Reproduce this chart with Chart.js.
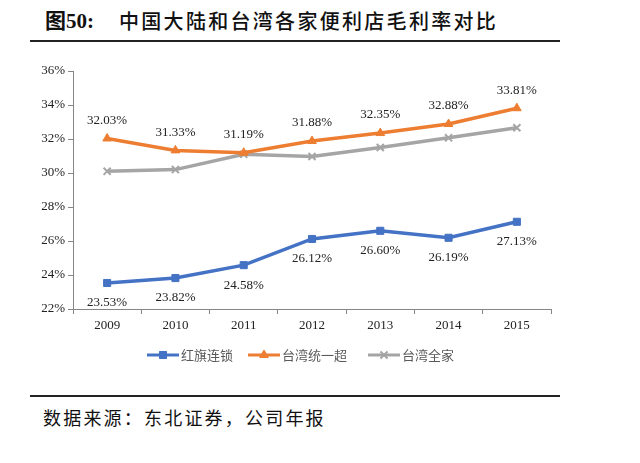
<!DOCTYPE html>
<html><head><meta charset="utf-8">
<script src="https://cdn.jsdelivr.net/npm/chart.js@4"></script>
<style>
html,body{margin:0;padding:0;background:#fff;width:640px;height:463px;overflow:hidden;}
#wrap{position:absolute;left:0;top:0;width:640px;height:463px;}
.title{position:absolute;left:45px;top:6px;color:#111;white-space:nowrap;line-height:30px;}
.title .num{font-family:"Liberation Serif","Noto Sans CJK SC",serif;font-weight:bold;font-size:21px;}
.title .main{position:absolute;left:74px;top:0;font-family:"Noto Sans CJK SC",sans-serif;font-weight:500;font-size:20px;letter-spacing:2.3px;}
.rule{position:absolute;left:30px;width:530px;height:2px;background:#222;}
.src{position:absolute;left:43px;top:404px;font-family:"Noto Sans CJK SC",sans-serif;font-size:18px;line-height:26px;letter-spacing:2.2px;color:#111;white-space:nowrap;}
</style></head>
<body>
<div class="title"><span class="num">图50:</span><span class="main">中国大陆和台湾各家便利店毛利率对比</span></div>
<div class="rule" style="top:40px"></div>
<div class="rule" style="top:395px"></div>
<div class="src">数据来源：东北证券，公司年报</div>
<div id="wrap"><canvas id="c" width="640" height="463"></canvas></div>
<script>
const years = ['2009','2010','2011','2012','2013','2014','2015'];
const hongqi = [23.53, 23.82, 24.58, 26.12, 26.60, 26.19, 27.13];
const tongyi = [32.03, 31.33, 31.19, 31.88, 32.35, 32.88, 33.81];
const quanjia = [30.10, 30.20, 31.10, 30.97, 31.50, 32.07, 32.66];
const seriesNames = ['红旗连锁', '台湾统一超', '台湾全家'];
const yTicks = [22, 24, 26, 28, 30, 32, 34, 36];

const serif = '"Liberation Serif", "Times New Roman", serif';

const dataLabels = {
  id: 'dataLabels',
  afterDatasetsDraw(chart) {
    const ctx = chart.ctx;
    ctx.save();
    ctx.font = '13px ' + serif;
    ctx.fillStyle = '#222';
    ctx.textAlign = 'center';
    ctx.textBaseline = 'middle';
    chart.data.datasets.forEach((ds, i) => {
      if (!ds.showLabels) return;
      const meta = chart.getDatasetMeta(i);
      meta.data.forEach((pt, j) => {
        const txt = ds.data[j].toFixed(2) + '%';
        ctx.fillText(txt, pt.x, pt.y + ds.labelOffset);
      });
    });
    ctx.restore();
  }
};

const customLegend = {
  id: 'customLegend',
  afterDraw(chart) {
    const ctx = chart.ctx;
    const y = 355;
    const items = [
      {x: 147, ds: 0},
      {x: 248, ds: 1},
      {x: 368, ds: 2}
    ];
    ctx.save();
    items.forEach(it => {
      const ds = chart.data.datasets[it.ds];
      ctx.strokeStyle = ds.borderColor;
      ctx.lineWidth = 3;
      ctx.beginPath();
      ctx.moveTo(it.x, y);
      ctx.lineTo(it.x + 32, y);
      ctx.stroke();
      ctx.fillStyle = ds.borderColor;
      ctx.strokeStyle = ds.borderColor;
      ctx.lineWidth = ds.pointBorderWidth || 1;
      Chart.helpers.drawPoint(ctx, {
        pointStyle: ds.pointStyle, radius: ds.pointRadius, rotation: 0,
        borderWidth: ds.pointBorderWidth || 1
      }, it.x + 16, y);
      ctx.fillStyle = '#595959';
      ctx.font = '13px "Noto Sans CJK SC", sans-serif';
      ctx.textAlign = 'left';
      ctx.textBaseline = 'middle';
      ctx.fillText(seriesNames[it.ds], it.x + 34, y);
    });
    ctx.restore();
  }
};

new Chart(document.getElementById('c'), {
  type: 'line',
  data: {
    labels: years,
    datasets: [
      {label: seriesNames[0], data: hongqi, borderColor: '#4472C4', backgroundColor: '#4472C4',
       borderWidth: 3.5, pointStyle: 'rect', pointRadius: 5, pointBorderWidth: 1,
       showLabels: true, labelOffset: 20, tension: 0},
      {label: seriesNames[1], data: tongyi, borderColor: '#ED7D31', backgroundColor: '#ED7D31',
       borderWidth: 3.5, pointStyle: 'triangle', pointRadius: 5, pointBorderWidth: 1,
       showLabels: true, labelOffset: -18, tension: 0},
      {label: seriesNames[2], data: quanjia, borderColor: '#A5A5A5', backgroundColor: '#A5A5A5',
       borderWidth: 3.5, pointStyle: 'crossRot', pointRadius: 5, pointBorderWidth: 2,
       showLabels: false, tension: 0}
    ]
  },
  options: {
    responsive: false,
    animation: false,
    devicePixelRatio: 1,
    layout: {padding: {left: 0, right: 89, top: 71, bottom: 0}},
    plugins: {legend: {display: false}, tooltip: {enabled: false}, title: {display: false}},
    scales: {
      x: {
        type: 'category',
        offset: true,
        afterFit(s) { s.height = 154; },
        grid: {display: true, offset: true, drawOnChartArea: false, drawTicks: true, tickLength: 5, color: '#868686'},
        border: {display: true, color: '#868686', width: 1},
        ticks: {font: {family: serif, size: 13}, color: '#222', padding: 4}
      },
      y: {
        min: 22, max: 36,
        afterFit(s) { s.width = 73; },
        afterBuildTicks(s) { s.ticks = yTicks.map(v => ({value: v})); },
        grid: {display: true, drawOnChartArea: false, drawTicks: true, tickLength: 5, color: '#868686'},
        border: {display: true, color: '#868686', width: 1},
        ticks: {font: {family: serif, size: 13}, color: '#222', padding: 3,
                callback: v => v + '%'}
      }
    }
  },
  plugins: [dataLabels, customLegend]
});
</script>
</body></html>
